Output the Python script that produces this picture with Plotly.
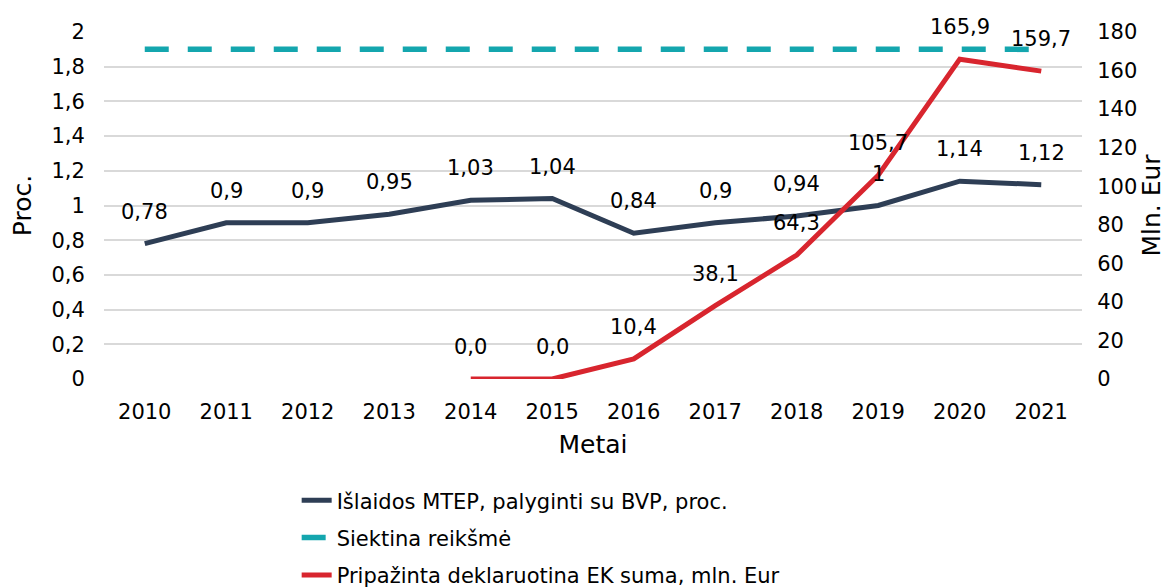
import plotly.graph_objects as go

years = [str(y) for y in range(2010, 2022)]
mtep = [0.78, 0.9, 0.9, 0.95, 1.03, 1.04, 0.84, 0.9, 0.94, 1, 1.14, 1.12]
target = [1.9] * 12
ek = [None, None, None, None, 0.0, 0.0, 10.4, 38.1, 64.3, 105.7, 165.9, 159.7]

name_mtep = "Išlaidos MTEP, palyginti su BVP, proc."
name_target = "Siektina reikšmė"
name_ek = "Pripažinta deklaruotina EK suma, mln. Eur"

FONT = "DejaVu Sans"
FS = 21
NAVY = "#2E3E55"
TEAL = "#14A6AE"
RED = "#D8252E"

fig = go.Figure()
fig.add_trace(go.Scatter(x=years, y=mtep, mode="lines", name=name_mtep,
                         line=dict(color=NAVY, width=5), legendgroup="a"))
fig.add_trace(go.Scatter(x=years, y=target, mode="lines", name=name_target,
                         line=dict(color=TEAL, width=5.5, dash="24px,19px"), legendgroup="b"))
fig.add_trace(go.Scatter(x=years, y=ek, mode="lines", name=name_ek, yaxis="y2",
                         line=dict(color=RED, width=5), legendgroup="c"))

ann = []
for i, v in enumerate(mtep):
    ann.append(dict(x=i, y=v, xref="x", yref="y", text=str(v).replace(".", ","),
                    showarrow=False, yshift=32, font=dict(size=FS, color="#000")))
for i, v in enumerate(ek):
    if v is None:
        continue
    ann.append(dict(x=i, y=v, xref="x", yref="y2", text=f"{v:.1f}".replace(".", ","),
                    showarrow=False, yshift=32, font=dict(size=FS, color="#000")))

fig.update_layout(
    width=1169, height=588,
    margin=dict(l=96, r=95, t=24, b=217),
    paper_bgcolor="white", plot_bgcolor="white",
    font=dict(family=FONT, size=FS, color="#000"),
    separators=", ",
    annotations=ann,
    xaxis=dict(type="category", range=[-0.5, len(years) - 0.5], showgrid=False,
               showline=False, zeroline=False, automargin=False,
               ticks="outside", ticklen=14, tickcolor="rgba(0,0,0,0)",
               title=dict(text="Metai", standoff=12)),
    yaxis=dict(range=[0, 2], dtick=0.2, showgrid=True, gridcolor="#D9D9D9", gridwidth=1.5,
               zeroline=False, showline=False, automargin=False, ticks="outside", ticklen=14,
               tickcolor="rgba(0,0,0,0)", title=dict(text="Proc.", standoff=14)),
    yaxis2=dict(range=[0, 180], dtick=20, overlaying="y", side="right", showgrid=False,
                zeroline=False, showline=False, automargin=False, ticks="outside", ticklen=10,
                tickcolor="rgba(0,0,0,0)", title=dict(text="Mln. Eur", standoff=1)),
    legend=dict(x=0.197, y=0.197, yref="container", xanchor="left", yanchor="top",
                tracegroupgap=7, traceorder="grouped", font=dict(size=FS)),
    showlegend=True,
)

fig.write_html("out.html")
